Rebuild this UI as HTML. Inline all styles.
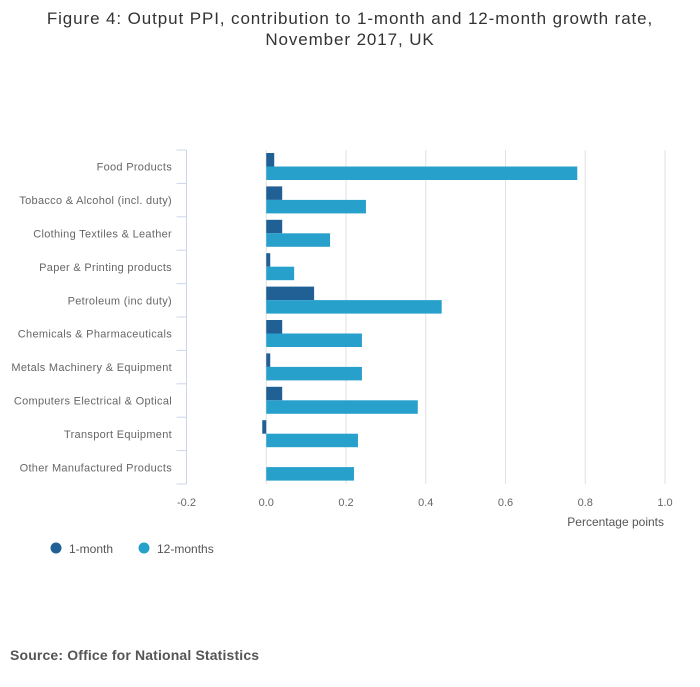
<!DOCTYPE html>
<html><head><meta charset="utf-8"><style>
body{margin:0;background:#fff;font-family:"Liberation Sans",sans-serif}
</style></head><body>
<svg width="700" height="682" xmlns="http://www.w3.org/2000/svg" font-family="Liberation Sans, sans-serif">
<text x="350" y="24" text-anchor="middle" font-size="17" letter-spacing="0.9" fill="#333">Figure 4: Output PPI, contribution to 1-month and 12-month growth rate,</text>
<text x="350" y="45" text-anchor="middle" font-size="17" letter-spacing="0.9" fill="#333">November 2017, UK</text>
<g id="grid"></g><g id="bars"></g><g id="axes"></g>
<text x="664" y="526" text-anchor="end" font-size="12" fill="#555">Percentage points</text>
<g>
<circle cx="56" cy="548" r="5.5" fill="#206095"/>
<text x="69" y="553" font-size="12" fill="#555">1-month</text>
<circle cx="144" cy="548" r="5.5" fill="#27a0cc"/>
<text x="157" y="553" font-size="12" fill="#555">12-months</text>
</g>
<text x="10" y="660" font-size="14" font-weight="bold" letter-spacing="0.15" fill="#555">Source: Office for National Statistics</text>
</svg>
<script>
const categories=["Food Products","Tobacco & Alcohol (incl. duty)","Clothing Textiles & Leather","Paper & Printing products","Petroleum (inc duty)","Chemicals & Pharmaceuticals","Metals Machinery & Equipment","Computers Electrical & Optical","Transport Equipment","Other Manufactured Products"];
const oneMonth=[0.02,0.04,0.04,0.01,0.12,0.04,0.01,0.04,-0.01,0];
const twelveMonths=[0.78,0.25,0.16,0.07,0.44,0.24,0.24,0.38,0.23,0.22];
const xTicks=[-0.2,0,0.2,0.4,0.6,0.8,1.0];
const xTickLabels=["-0.2","0.0","0.2","0.4","0.6","0.8","1.0"];
const NS="http://www.w3.org/2000/svg";
const X0=186.5,X1=665,vMin=-0.2,vMax=1.0,Y0=150,Y1=484;
const x=v=>X0+(v-vMin)/(vMax-vMin)*(X1-X0);
const rowH=(Y1-Y0)/categories.length;
function mk(t,a,p){const e=document.createElementNS(NS,t);for(const k in a)e.setAttribute(k,a[k]);p.appendChild(e);return e;}
const grid=document.getElementById('grid'),bars=document.getElementById('bars'),axes=document.getElementById('axes');
xTicks.forEach((t,i)=>{
 if(i>0){const l=mk('line',{x1:x(t),x2:x(t),y1:Y0,y2:Y1,stroke:'#e0e0e0','stroke-width':1},grid);
 
 }
 const tx=mk('text',{x:x(t),y:Y1+22,'text-anchor':'middle','font-size':11,fill:'#666'},axes);
 tx.textContent=xTickLabels[i];
 
 
});
const ax=mk('line',{x1:X0,x2:X0,y1:Y0,y2:Y1,stroke:'#ccd6eb','stroke-width':1},axes);


for(let i=0;i<=categories.length;i++){
 const tk=mk('line',{x1:X0-10,x2:X0,y1:Y0+i*rowH,y2:Y0+i*rowH,stroke:'#ccd6eb','stroke-width':1},axes);
 
 
}
categories.forEach((c,i)=>{
 const ry=Y0+i*rowH;
 const lb=mk('text',{x:172,y:ry+rowH/2+4,'text-anchor':'end','font-size':11,'letter-spacing':0.3,fill:'#666'},axes);
 lb.textContent=c;
 
 
 const a=oneMonth[i],b=twelveMonths[i];
 const r1=mk('rect',{x:Math.min(x(0),x(a)),y:ry+3,width:Math.abs(x(a)-x(0)),height:13.5,fill:'#206095'},bars);
 
 
 const r2=mk('rect',{x:Math.min(x(0),x(b)),y:ry+16.5,width:Math.abs(x(b)-x(0)),height:13.5,fill:'#27a0cc'},bars);
 
 
});
</script>
</body></html>
